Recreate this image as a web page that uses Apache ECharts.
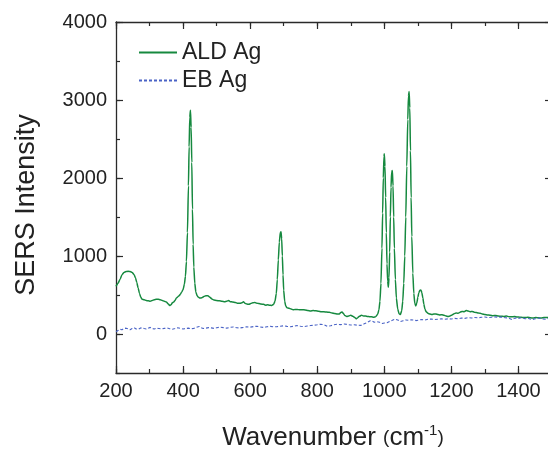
<!DOCTYPE html>
<html lang="en">
<head>
    <meta charset="UTF-8">
    <title>SERS spectra</title>
    <script src="https://cdn.jsdelivr.net/npm/echarts@6/dist/echarts.min.js"></script>
    <style>
        html, body { margin: 0; padding: 0; background: #fff; }
    </style>
</head>
<body>
<div id="main" style="width: 548px;height:453px;"></div>
</body>
<script>
    // ALD Ag spectrum
    var aldWave = [200,206,212,218,224,230,236,242,248,254,258,262,266,270,274,278,284,290,296,302,308,314,320,326,332,338,344,350,356,360,364,368,372,376,380,384,388,392,396,400,404,407,410,413,416,418,420,422,424,426,428,430,432,435,438,442,446,450,456,462,468,474,480,486,492,500,508,516,524,530,536,540,548,556,562,570,576,580,584,590,596,602,608,614,620,626,632,640,646,652,658,664,670,674,678,681,684,687,690,692,694,696,698,700,703,706,710,716,722,728,734,740,748,756,764,772,780,788,796,804,812,820,828,836,844,852,860,866,870,874,878,882,888,894,900,906,912,916,920,926,932,938,944,950,956,962,968,974,980,984,987,990,993,995,997,999,1000,1002,1004,1006,1008,1010,1012,1014,1016,1018,1020,1022,1024,1026,1028,1030,1033,1036,1040,1044,1048,1052,1055,1058,1061,1064,1067,1070,1072,1074,1076,1078,1080,1082,1085,1088,1091,1094,1097,1100,1103,1106,1109,1112,1115,1118,1121,1125,1130,1136,1142,1148,1154,1160,1166,1172,1178,1184,1190,1196,1202,1208,1214,1220,1226,1232,1238,1244,1250,1256,1262,1268,1274,1280,1286,1292,1300,1308,1316,1324,1332,1340,1348,1356,1364,1372,1380,1388,1396,1404,1412,1420,1428,1436,1444,1452,1460,1468,1476,1484,1492,1500];
    var aldIntensity = [610,650,700,760,790,800,805,800,790,760,720,660,590,520,470,445,440,430,425,420,430,440,445,445,440,430,420,410,385,365,375,400,410,430,460,475,490,510,540,570,640,740,930,1300,1900,2400,2780,2870,2650,2200,1600,1150,860,650,540,490,470,460,465,480,490,490,470,450,435,430,425,420,415,420,430,415,410,405,395,395,400,415,395,385,380,390,400,405,395,390,385,380,370,375,370,365,380,420,520,700,950,1180,1300,1310,1220,1000,760,560,420,360,335,330,320,310,315,315,310,312,308,300,295,300,298,292,285,285,282,278,270,262,255,258,275,282,262,238,225,230,240,228,212,195,205,228,240,232,230,225,222,220,215,220,250,310,420,650,1100,1550,2000,2280,2310,2150,1750,1300,900,680,600,720,1050,1500,1880,2080,2095,1900,1500,1100,700,460,320,260,250,300,420,650,1000,1500,2150,2750,3050,3110,2900,2350,1750,1250,780,520,390,360,400,470,530,560,565,530,460,380,320,285,265,255,250,255,258,250,245,248,240,232,225,230,245,260,270,265,280,290,285,300,295,285,290,280,275,270,265,258,250,245,240,235,238,230,228,225,230,222,220,225,218,215,212,210,215,208,205,210,208,205,210,212,208,205];

    // EB Ag spectrum
    var ebWave = [200,206,212,218,224,230,236,242,248,254,260,266,272,278,284,290,296,302,308,314,320,328,336,344,352,360,368,376,384,392,400,408,416,424,432,440,448,454,460,468,476,484,492,500,510,520,530,540,550,560,570,580,590,600,610,620,630,640,650,660,670,680,690,700,710,720,730,740,750,760,770,780,790,800,810,820,830,840,850,860,870,880,890,900,910,920,930,940,950,958,964,970,978,986,994,1000,1008,1016,1024,1032,1040,1048,1056,1064,1072,1080,1088,1096,1104,1112,1120,1130,1140,1150,1160,1170,1180,1190,1200,1210,1220,1230,1240,1250,1260,1270,1280,1290,1300,1310,1320,1330,1340,1350,1360,1370,1380,1390,1400,1410,1420,1430,1440,1450,1460,1470,1480,1490,1500];
    var ebIntensity = [30,45,60,55,70,75,65,55,70,80,65,60,75,80,70,65,75,85,70,65,75,70,65,72,78,68,62,70,80,72,65,70,75,68,72,85,95,80,70,75,82,78,72,80,88,82,75,85,90,80,78,85,92,88,95,100,90,85,92,98,92,95,100,105,98,92,100,108,100,95,102,108,112,118,125,120,98,105,118,125,120,128,122,115,118,112,110,130,150,170,165,150,158,150,135,140,145,160,175,190,180,160,170,180,175,182,178,172,180,185,178,188,192,185,190,195,188,195,192,200,195,205,200,210,205,212,208,215,218,210,215,220,215,218,210,205,185,205,200,210,195,200,185,195,205,195,190,200,195];

    var seriesNames = ['ALD Ag', 'EB Ag'];
    var xTicks = [200, 400, 600, 800, 1000, 1200, 1400];
    var yTicks = [0, 1000, 2000, 3000, 4000];

    function pairs(xs, ys) {
        var out = [];
        for (var i = 0; i < xs.length; i++) out.push([xs[i], ys[i]]);
        return out;
    }

    var axisColor = '#2a2a2a';
    var font = '"Liberation Sans", Arial, sans-serif';
    var plain = function (v) { return String(v); };

    var myChart = echarts.init(document.getElementById('main'), null, {renderer: 'canvas'});

    function xAx(pos, step, major, labels) {
        return {
            type: 'value', position: pos, min: 200, max: 1500, interval: step,
            axisLine: {show: major, onZero: false, lineStyle: {color: axisColor, width: 1.3}},
            axisTick: {show: true, inside: true, length: major ? 7 : 4,
                customValues: major ? xTicks : undefined,
                lineStyle: {color: axisColor, width: 1.2}},
            axisLabel: {show: labels, fontSize: 20, color: '#222', fontFamily: font, margin: 8,
                customValues: xTicks, formatter: plain},
            splitLine: {show: false}
        };
    }
    function yAx(pos, major) {
        return {
            type: 'value', position: pos, min: -500, max: 4000, interval: 500,
            axisLine: {show: major, onZero: false, lineStyle: {color: axisColor, width: 1.3}},
            axisTick: {show: true, inside: true, length: major ? 7 : 4,
                customValues: major ? yTicks : undefined,
                lineStyle: {color: axisColor, width: 1.2}},
            axisLabel: {show: major && pos === 'left', fontSize: 20, color: '#222', fontFamily: font, margin: 9,
                customValues: yTicks, formatter: plain},
            splitLine: {show: false}
        };
    }

    var option = {
        animation: false,
        backgroundColor: '#fff',
        grid: {left: 116, top: 22, right: -4, bottom: 80, outerBoundsMode: 'none'},
        legend: {
            orient: 'vertical', left: 133, top: 36, itemWidth: 38, itemHeight: 12, itemGap: 5,
            itemStyle: {opacity: 0},
            textStyle: {fontSize: 23, color: '#222', fontFamily: font},
            data: seriesNames
        },
        xAxis: [
            xAx('bottom', 200, true, true),
            xAx('bottom', 100, false, false),
            xAx('top', 200, true, false),
            xAx('top', 100, false, false)
        ],
        yAxis: [
            yAx('left', true),
            yAx('left', false),
            yAx('right', true),
            yAx('right', false)
        ],
        graphic: [
            {
                type: 'text', x: 27, y: 205, rotation: Math.PI / 2,
                style: {text: 'SERS Intensity', fontSize: 27, fill: '#222', fontFamily: font,
                    align: 'center', verticalAlign: 'middle'}
            },
            {
                type: 'text', x: 333, y: 438,
                style: {
                    text: '{a|Wavenumber }{p|(}{a|cm}{s|-1}{p|)}',
                    align: 'center', verticalAlign: 'middle',
                    rich: {
                        a: {fontSize: 26, fill: '#222', fontFamily: font, lineHeight: 30},
                        p: {fontSize: 19, fill: '#222', fontFamily: font, lineHeight: 30},
                        s: {fontSize: 15, fill: '#222', fontFamily: font, lineHeight: 30, verticalAlign: 'top', padding: [0, 0, 14, 0]}
                    }
                }
            }
        ],
        series: [
            {
                name: seriesNames[0], type: 'line', xAxisIndex: 0, yAxisIndex: 0,
                data: pairs(aldWave, aldIntensity),
                showSymbol: false, symbol: 'none', smooth: 0.2, smoothMonotone: 'x',
                lineStyle: {color: '#16893f', width: 1.5},
                itemStyle: {color: '#16893f'}
            },
            {
                name: seriesNames[1], type: 'line', xAxisIndex: 0, yAxisIndex: 0,
                data: pairs(ebWave, ebIntensity),
                showSymbol: false, symbol: 'none',
                lineStyle: {color: '#4a63c6', width: 1.1, type: [3, 2]},
                itemStyle: {color: '#4a63c6'}
            }
        ]
    };
    myChart.setOption(option);
</script>
</html>
